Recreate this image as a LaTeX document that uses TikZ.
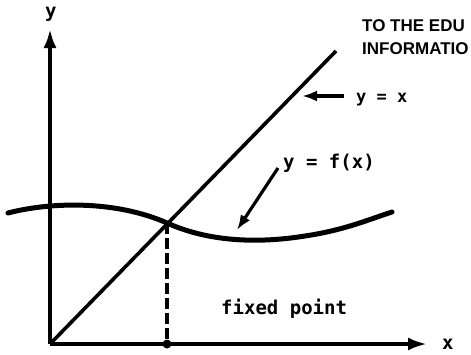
\documentclass[tikz,border=0pt]{standalone}
\usepackage{fontspec}
\setmainfont{Liberation Sans}
\newfontfamily\monof{DejaVu Sans Mono}
\usetikzlibrary{arrows.meta}
\begin{document}
\begin{tikzpicture}[x=1pt,y=-1pt,
  axisline/.style={line width=3.6pt,-{Latex[length=19pt,width=13pt]}},
  plainline/.style={line width=3.6pt},
  curveline/.style={line width=5pt,line cap=round},
  pointer/.style={line width=3.2pt,-{Latex[length=15pt,width=11pt]}},
  dashline/.style={line width=3.4pt,dash pattern=on 11pt off 4pt},
  lbl/.style={font=\monof\bfseries\fontsize{19}{22}\selectfont,inner sep=0pt,anchor=base west},
  smalllbl/.style={font=\monof\bfseries\fontsize{17}{20}\selectfont,inner sep=0pt,anchor=base west},
  heading/.style={font=\bfseries\fontsize{17}{20}\selectfont,inner sep=0pt,anchor=base west}]
\useasboundingbox (0,0) rectangle (471,354);
% axes
\coordinate (O) at (50,344);
\coordinate (ytip) at (50,29);
\coordinate (xtip) at (427,344);
\draw[axisline] (O) -- (ytip);
\draw[axisline] (O) -- (xtip);
% y = x line
\coordinate (D) at (336,51);
\draw[plainline] (O) -- (D);
% y = f(x) curve
\coordinate (C0) at (8,213);
\coordinate (F) at (167,223);
\coordinate (C2) at (305,236);
\coordinate (C3) at (392,212);
\draw[curveline] (C0) .. controls (50,202) and (115,200) .. (F)
  .. controls (207,241) and (255,244) .. (C2)
  .. controls (345,230) and (370,219) .. (C3);
% fixed point
\coordinate (Fb) at (167,344);
\draw[dashline] (F) -- (Fb);
\fill (Fb) circle (4.5pt);
% labels
\node[lbl] (ylab) at (45,17) {y};
\node[lbl] (xlab) at (442,349) {x};
\node[smalllbl] (yx) at (356,102) {y = x};
\node[lbl] (yfx) at (283,168) {y = f(x)};
\node[lbl] (fp) at (221,314) {fixed point};
% pointers
\coordinate (yxtail) at (344,96);
\coordinate (yxtip) at (302,96);
\draw[pointer] (yxtail) -- (yxtip);
\coordinate (fxtail) at (278,168);
\coordinate (fxtip) at (237,230);
\draw[pointer] (fxtail) -- (fxtip);
% heading
\node[heading] (h1) at (362,31) {TO THE EDU};
\node[heading] (h2) at (362,54) {INFORMATIO};
\end{tikzpicture}
\end{document}
